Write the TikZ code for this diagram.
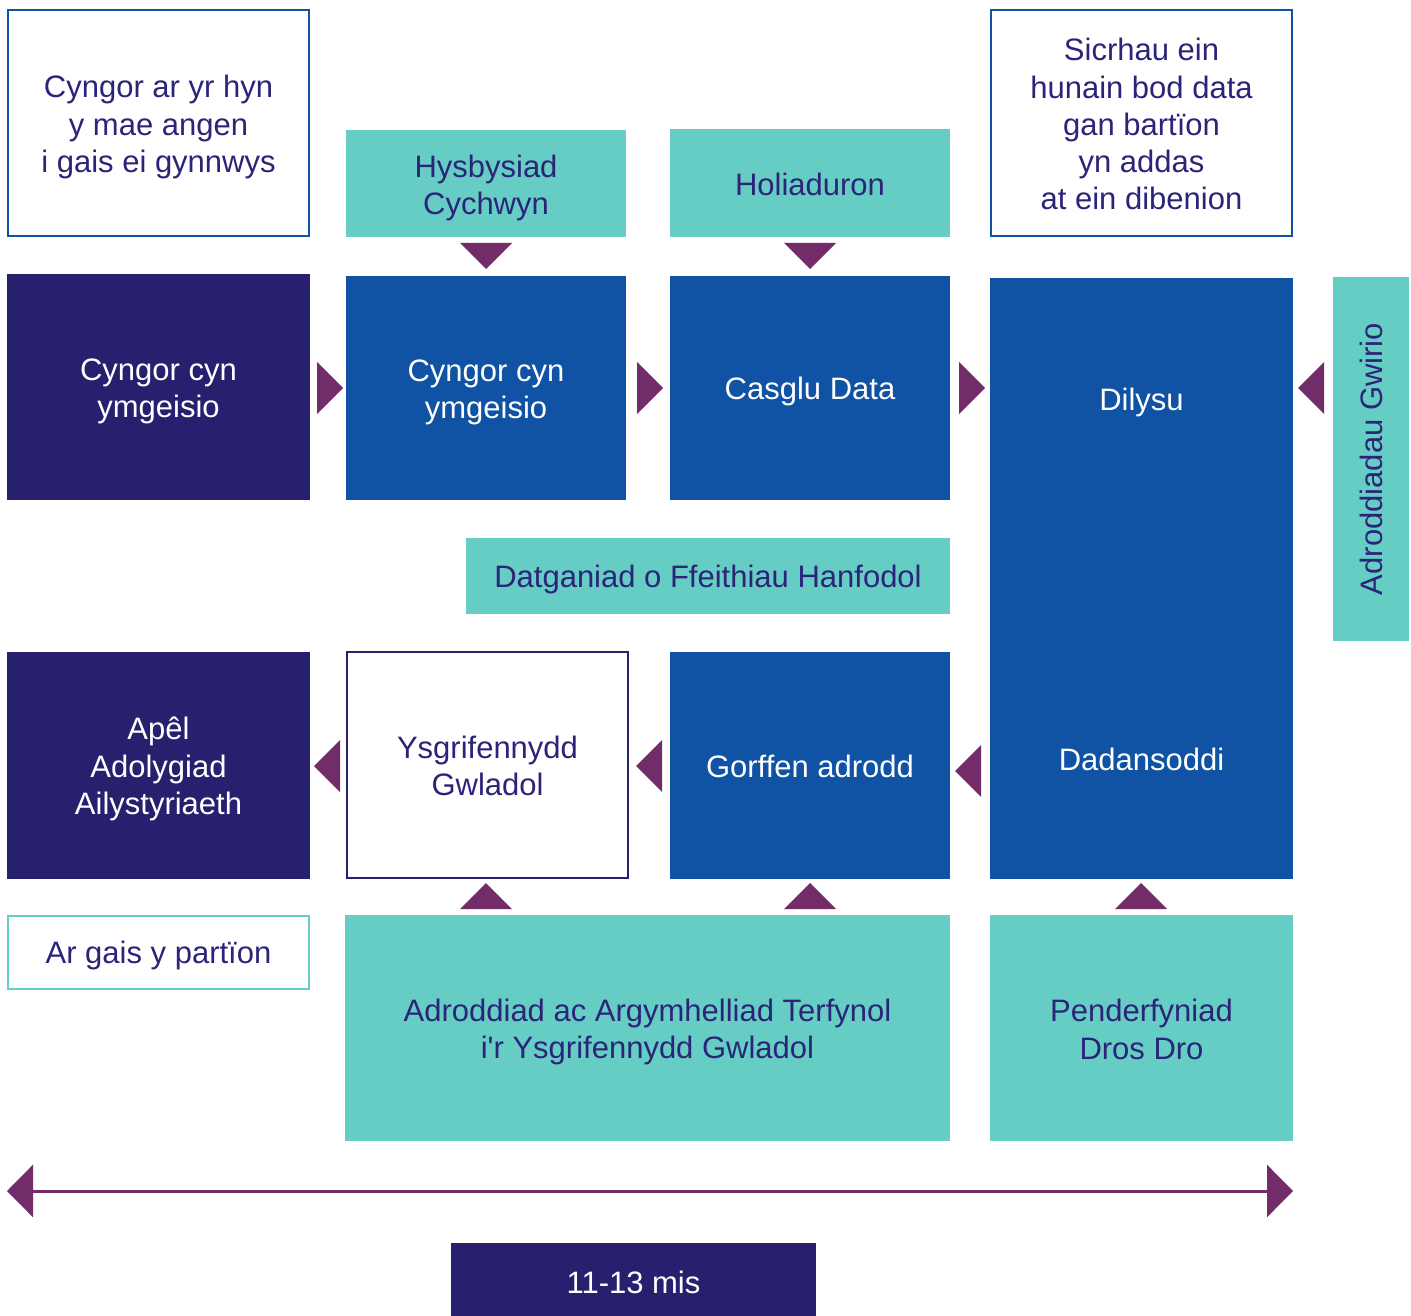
\documentclass[tikz,border=0pt]{standalone}
\usepackage{fontspec}
\setmainfont{Liberation Sans}
\usetikzlibrary{arrows.meta}
\definecolor{cnavy}{HTML}{26206F}
\definecolor{cblue}{HTML}{1052A3}
\definecolor{cteal}{HTML}{66CDC4}
\definecolor{cpurple}{HTML}{722C69}
\definecolor{ctext}{HTML}{2B2479}
\newcommand\sgl{\rule{0pt}{28.5pt}}
\newcommand\mlt{\rule{0pt}{31pt}}
\begin{document}
\begin{tikzpicture}[x=1pt,y=-1pt,
  box/.style={rectangle, inner sep=0pt, align=center, font=\fontsize{31}{37.3}\selectfont},
  navybox/.style={box, fill=cnavy, text=white},
  bluebox/.style={box, fill=cblue, text=white},
  tealbox/.style={box, fill=cteal, text=ctext},
  whitebox/.style={box, draw=cblue, line width=2.2pt, fill=white, text=ctext},
  lbl/.style={box, text=white},
  tri/.style={fill=cpurple},
  sz/.style 2 args={minimum width=#1pt, minimum height=#2pt},
  span/.style={draw=cpurple, line width=3pt, {Triangle[length=26pt,width=52pt]}-{Triangle[length=26pt,width=52pt]}}]
\useasboundingbox (0,0) rectangle (1411,1316);
% top row
\node[whitebox, sz={301}{226}] (adv) at (158.5,123) {\mlt Cyngor ar yr hyn\\y mae angen\\i gais ei gynnwys};
\node[tealbox, sz={280}{107}] (hys) at (486,183.5) {\mlt Hysbysiad\\Cychwyn};
\node[tealbox, sz={280}{108}] (hol) at (810,183) {\rule{0pt}{26pt}Holiaduron};
\node[whitebox, sz={301}{226}] (sic) at (1141.5,123) {\rule{0pt}{25pt}Sicrhau ein\\hunain bod data\\gan bartïon\\yn addas\\at ein dibenion};
% second row
\node[navybox, sz={303}{226}] (cc1) at (158.5,387) {\mlt Cyngor cyn\\ymgeisio};
\node[bluebox, sz={280}{224}] (cc2) at (486,388) {\mlt Cyngor cyn\\ymgeisio};
\node[bluebox, sz={280}{224}] (cas) at (810,388) {\sgl Casglu Data};
\node[box, fill=cblue, sz={303}{601}] (dil) at (1141.5,578.5) {};
\node[lbl] (dilt) at (1141.5,399.5) {\sgl Dilysu};
\node[lbl] (dadt) at (1141.5,756.5) {\sgl Dadansoddi};
\node[box, fill=cteal, text=ctext, rotate=90, sz={364}{76}] (adr) at (1371,459) {Adroddiadau Gwirio};
% middle
\node[tealbox, sz={484}{76}] (dat) at (708,576) {\sgl Datganiad o Ffeithiau Hanfodol};
% third row
\node[navybox, sz={303}{227}] (ape) at (158.5,765.5) {\rule{0pt}{30pt}Apêl\\Adolygiad\\Ailystyriaeth};
\node[whitebox, draw=cnavy, sz={281}{226}] (ysg) at (487.5,765) {\rule{0pt}{24pt}Ysgrifennydd\\Gwladol};
\node[bluebox, sz={280}{227}] (gor) at (810,765.5) {\rule{0pt}{25pt}Gorffen adrodd};
% bottom row
\node[whitebox, draw=cteal, sz={301}{73}] (arg) at (158.5,952.5) {\sgl Ar gais y partïon};
\node[tealbox, sz={605}{226}] (adrf) at (647.5,1028) {\mlt Adroddiad ac Argymhelliad Terfynol\\i\textquotesingle r Ysgrifennydd Gwladol};
\node[tealbox, sz={303}{226}] (pen) at (1141.5,1028) {\rule{0pt}{25pt}Penderfyniad\\Dros Dro};
\node[navybox, sz={365}{73}] (mis) at (633.5,1279.5) {\sgl 11-13 mis};
% triangles down
\fill[tri] (460,243) -- (512,243) -- (486,269) -- cycle;
\fill[tri] (784,243) -- (836,243) -- (810,269) -- cycle;
% triangles right
\fill[tri] (317,362) -- (343,388) -- (317,414) -- cycle;
\fill[tri] (637,362) -- (663,388) -- (637,414) -- cycle;
\fill[tri] (959,362) -- (985,388) -- (959,414) -- cycle;
% triangle left from Adroddiadau
\fill[tri] (1324,362) -- (1298,388) -- (1324,414) -- cycle;
% triangles left, third row
\fill[tri] (340,740) -- (314,766) -- (340,792) -- cycle;
\fill[tri] (662,740) -- (636,766) -- (662,792) -- cycle;
\fill[tri] (981,745) -- (955,771) -- (981,797) -- cycle;
% triangles up
\fill[tri] (460,909) -- (486,883) -- (512,909) -- cycle;
\fill[tri] (784,909) -- (810,883) -- (836,909) -- cycle;
\fill[tri] (1115,909) -- (1141,883) -- (1167,909) -- cycle;
% timeline
\coordinate (tl) at (7,1191);
\coordinate (tr) at (1293,1191);
\draw[span] (tl) -- (tr);
\end{tikzpicture}
\end{document}
